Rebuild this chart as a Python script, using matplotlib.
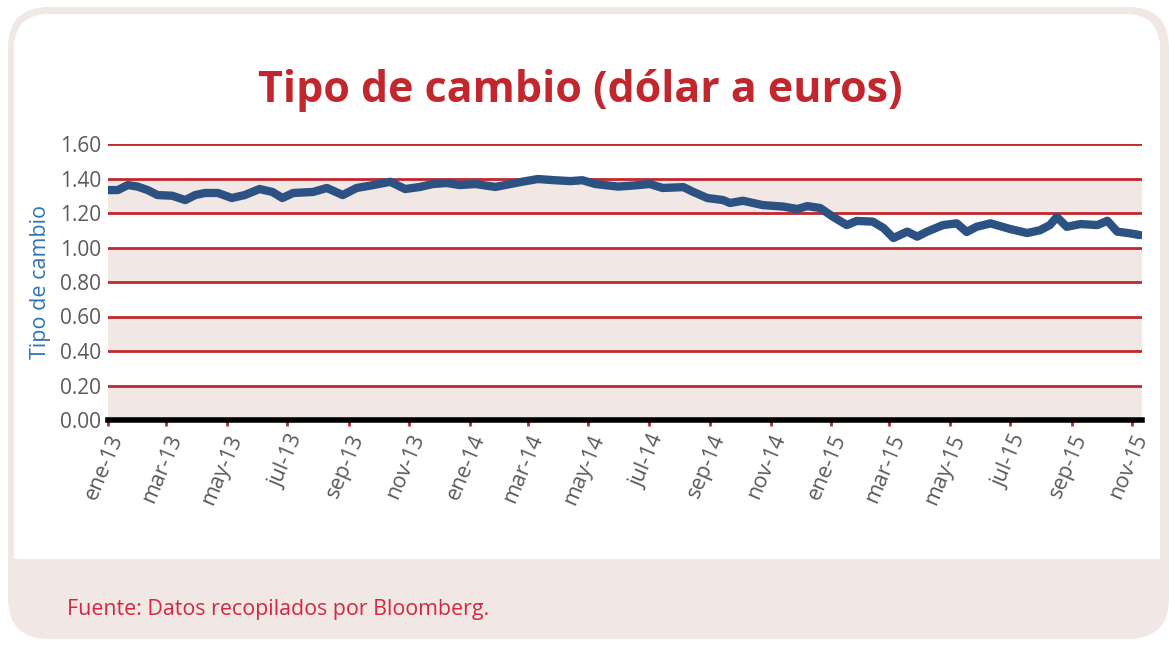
import matplotlib
matplotlib.use("Agg")
import matplotlib.pyplot as plt
from matplotlib.patches import FancyBboxPatch, Rectangle
import pandas as pd

# ---- data ----
dates = ["2013-01-01", "2013-01-11", "2013-01-21", "2013-01-31", "2013-02-10", "2013-02-20",
         "2013-03-07", "2013-03-20", "2013-03-30", "2013-04-09", "2013-04-22", "2013-05-06",
         "2013-05-19", "2013-06-03", "2013-06-16", "2013-06-26", "2013-07-07", "2013-07-27",
         "2013-08-10", "2013-08-26", "2013-09-09", "2013-09-26", "2013-10-13", "2013-10-28",
         "2013-11-12", "2013-11-25", "2013-12-09", "2013-12-22", "2014-01-07", "2014-01-27",
         "2014-02-23", "2014-03-11", "2014-03-28", "2014-04-13", "2014-04-25", "2014-05-08",
         "2014-05-31", "2014-06-17", "2014-07-02", "2014-07-15", "2014-08-05", "2014-08-15",
         "2014-08-29", "2014-09-14", "2014-09-21", "2014-10-04", "2014-10-24", "2014-11-14",
         "2014-11-28", "2014-12-08", "2014-12-21", "2015-01-03", "2015-01-17", "2015-01-27",
         "2015-02-12", "2015-02-23", "2015-03-05", "2015-03-19", "2015-03-29", "2015-04-08",
         "2015-04-24", "2015-05-08", "2015-05-18", "2015-05-28", "2015-06-11", "2015-07-01",
         "2015-07-18", "2015-07-31", "2015-08-10", "2015-08-17", "2015-08-27", "2015-09-10",
         "2015-09-27", "2015-10-07", "2015-10-17", "2015-10-30", "2015-11-09"]
rates = [1.333, 1.333, 1.362, 1.353, 1.333, 1.304,
         1.300, 1.275, 1.304, 1.316, 1.316, 1.287,
         1.304, 1.339, 1.322, 1.287, 1.316, 1.322,
         1.345, 1.304, 1.345, 1.362, 1.381, 1.339,
         1.351, 1.368, 1.374, 1.362, 1.368, 1.351,
         1.381, 1.397, 1.390, 1.385, 1.390, 1.368,
         1.353, 1.360, 1.368, 1.345, 1.350, 1.322,
         1.287, 1.275, 1.258, 1.271, 1.246, 1.237,
         1.223, 1.240, 1.229, 1.178, 1.130, 1.154,
         1.150, 1.113, 1.055, 1.092, 1.063, 1.092,
         1.130, 1.140, 1.090, 1.120, 1.140, 1.107,
         1.084, 1.100, 1.130, 1.177, 1.120, 1.136,
         1.130, 1.155, 1.092, 1.082, 1.072]
yticks = [0.0, 0.2, 0.4, 0.6, 0.8, 1.0, 1.2, 1.4, 1.6]
month_names = ["ene", "feb", "mar", "abr", "may", "jun", "jul", "ago", "sep", "oct", "nov", "dic"]
title = "Tipo de cambio (dólar a euros)"
ylabel = "Tipo de cambio"
source = "Fuente: Datos recopilados por Bloomberg."

# ---- styling ----
W, H = 1169, 645
RED = "#c1272d"
PINK = "#f1e8e5"
NAVY = "#2b5282"
GRAY = "#5a5a5a"
BLUE = "#2e75b6"
FONT = "Open Sans"

fig = plt.figure(figsize=(W / 100, H / 100), dpi=100)
fig.patch.set_facecolor("white")

# card background
card = FancyBboxPatch((8 / W, 6 / H), 1161 / W, 632 / H,
                      boxstyle="round,pad=0,rounding_size=0.035",
                      transform=fig.transFigure, facecolor=PINK, edgecolor="none", zorder=0,
                      mutation_aspect=W / H)
fig.patches.append(card)
inner = Rectangle((14 / W, (H - 559) / H), (1160 - 14) / W, (559 - 40) / H,
                  transform=fig.transFigure, facecolor="white", edgecolor="none", zorder=0.5)
fig.patches.append(inner)
inner2 = FancyBboxPatch((14 / W, (H - 559) / H), 1146 / W, (559 - 14) / H,
                        boxstyle="round,pad=0,rounding_size=0.03",
                        transform=fig.transFigure, facecolor="white", edgecolor="none", zorder=0.5,
                        mutation_aspect=W / H)
fig.patches.append(inner2)

ax = fig.add_axes([108 / W, 1 - 420 / H, (1142 - 108) / W, (420 - 144) / H])
ax.set_zorder(5)
ax.set_facecolor("none")
x = pd.to_datetime(dates)

ax.set_ylim(0, 1.6)
ax.set_xlim(pd.Timestamp("2013-01-01"), pd.Timestamp("2015-11-11"))

# alternating bands
for i in range(len(yticks) - 1):
    if i % 2 == 0:
        ax.axhspan(yticks[i], yticks[i + 1], color=PINK, zorder=0, lw=0)
for yv in yticks[1:]:
    ax.axhline(yv, color=RED, lw=2, zorder=1)
ax.axhline(0, color="black", lw=4, zorder=3, clip_on=False)

ax.plot(x, rates, color=NAVY, lw=6, solid_joinstyle="round", solid_capstyle="round", zorder=4)

for s in ax.spines.values():
    s.set_visible(False)

ax.set_yticks(yticks)
ax.set_yticklabels([f"{v:.2f}" for v in yticks], fontsize=15, color=GRAY, family=FONT)
ax.tick_params(axis="y", length=0, pad=5)

ticks = pd.date_range("2013-01-01", "2015-11-01", freq="2MS")
ax.set_xticks(ticks)
ax.set_xticklabels([f"{month_names[t.month - 1]}-{t.year % 100:02d}" for t in ticks],
                   rotation=67, ha="right", rotation_mode="anchor",
                   fontsize=15.5, color=GRAY, family=FONT)
ax.tick_params(axis="x", length=4, width=2, color=RED, direction="out", pad=4)

ax.set_ylabel(ylabel, color=BLUE, fontsize=15.5, family=FONT, labelpad=6)

fig.text(580 / W, 1 - 90 / H, title, ha="center", va="center", fontsize=31,
         fontweight="bold", color=RED, family=FONT)
fig.text(67 / W, 1 - 610 / H, source, ha="left", va="center", fontsize=15.4,
         color="#d7263d", family=FONT)

fig.savefig("out.png", dpi=100, facecolor=fig.get_facecolor())
